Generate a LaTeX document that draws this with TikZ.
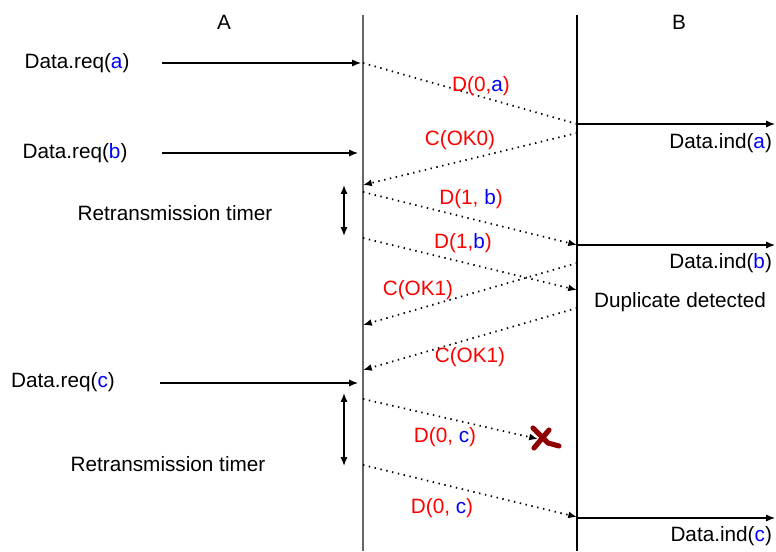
\documentclass[tikz,border=0pt]{standalone}
\usepackage{fontspec}
\setmainfont{Liberation Sans}
\usepackage{xcolor}
\usetikzlibrary{arrows.meta}
\definecolor{lossred}{RGB}{145,0,0}
\newcommand{\pdu}[1]{\textcolor{blue}{#1}}

\begin{document}
\begin{tikzpicture}[x=0.02cm, y=-0.02cm, >={Latex[length=5pt,width=4pt]},
    font=\fontsize{11.8}{14}\selectfont,
    life/.style={line width=0.7pt},
    req/.style={->, line width=0.7pt},
    msg/.style={->, line width=1pt, dash pattern=on 0.8pt off 2.6pt},
    timer/.style={<->, line width=0.8pt},
    lbl/.style={text=red, inner sep=1pt},
    txt/.style={inner sep=1pt}]

  \useasboundingbox (0,0) rectangle (776,551);

  % the two entities
  \node[txt] (A) at (224,22) {A};
  \node[txt] (B) at (679,22) {B};
  \coordinate (Atop) at (363,15);
  \coordinate (Abot) at (363,551);
  \coordinate (Btop) at (577,15);
  \coordinate (Bbot) at (577,551);
  \draw[life, gray!80!black] (Atop) -- (Abot);
  \draw[life] (Btop) -- (Bbot);

  % requests at A
  \node[txt] (reqa) at (77,63) {Data.req(\pdu{a})};
  \node[txt] (reqb) at (75,153) {Data.req(\pdu{b})};
  \node[txt] (reqc) at (63,382) {Data.req(\pdu{c})};
  \coordinate (ra0) at (162,63);  \coordinate (ra1) at (361,63);
  \coordinate (rb0) at (162,153); \coordinate (rb1) at (358,153);
  \coordinate (rc0) at (160,383); \coordinate (rc1) at (358,383);
  \draw[req] (ra0) -- (ra1);
  \draw[req] (rb0) -- (rb1);
  \draw[req] (rc0) -- (rc1);

  % indications at B
  \coordinate (ia0) at (577,124); \coordinate (ia1) at (775,124);
  \coordinate (ib0) at (577,245); \coordinate (ib1) at (775,245);
  \coordinate (ic0) at (577,518); \coordinate (ic1) at (775,518);
  \draw[req] (ia0) -- (ia1);
  \draw[req] (ib0) -- (ib1);
  \draw[req] (ic0) -- (ic1);
  \node[txt, anchor=east] (inda) at (774,143) {Data.ind(\pdu{a})};
  \node[txt, anchor=east] (indb) at (774,263) {Data.ind(\pdu{b})};
  \node[txt, anchor=east] (indc) at (774,536) {Data.ind(\pdu{c})};
  \node[txt] (dup) at (680,302) {Duplicate detected};

  % frames and acks
  \coordinate (d1s) at (363,63);  \coordinate (d1e) at (577,124);
  \coordinate (c1s) at (577,133); \coordinate (c1e) at (363,185);
  \coordinate (d2s) at (363,192); \coordinate (d2e) at (577,245);
  \coordinate (d3s) at (363,238); \coordinate (d3e) at (577,290);
  \coordinate (c2s) at (577,263); \coordinate (c2e) at (363,325);
  \coordinate (c3s) at (577,308); \coordinate (c3e) at (363,370);
  \coordinate (d4s) at (363,399); \coordinate (lost) at (538,439);
  \coordinate (d5s) at (363,465); \coordinate (d5e) at (577,517);

  \draw[line width=1pt, dash pattern=on 0.8pt off 2.6pt] (d1s) -- (d1e);
  \draw[msg] (c1s) -- (c1e);
  \draw[msg] (d2s) -- (d2e);
  \draw[msg] (d3s) -- (d3e);
  \draw[msg] (c2s) -- (c2e);
  \draw[msg] (c3s) -- (c3e);
  \draw[msg] (d4s) -- (lost);
  \draw[msg] (d5s) -- (d5e);

  \node[lbl] (l1) at (481,86)  {D(0,\pdu{a})};
  \node[lbl] (l2) at (460,140) {C(OK0)};
  \node[lbl] (l3) at (471,199) {D(1, \pdu{b})};
  \node[lbl] (l4) at (463,243) {D(1,\pdu{b})};
  \node[lbl] (l5) at (418,290) {C(OK1)};
  \node[lbl] (l6) at (470,357) {C(OK1)};
  \node[lbl] (l7) at (445,437) {D(0, \pdu{c})};
  \node[lbl] (l8) at (442,508) {D(0, \pdu{c})};

  % frame lost
  \draw[lossred, line width=2.9pt, line cap=round]
    (lost) ++(-5,-11) -- ++(15,15) -- ++(11,3)
    (lost) ++(-4,9) -- ++(15,-18);

  % retransmission timers
  \coordinate (t1s) at (344,185); \coordinate (t1e) at (344,236);
  \coordinate (t2s) at (344,393); \coordinate (t2e) at (344,466);
  \draw[timer] (t1s) -- (t1e);
  \draw[timer] (t2s) -- (t2e);
  \node[txt] (tm1) at (175,213) {Retransmission timer};
  \node[txt] (tm2) at (168,464) {Retransmission timer};
\end{tikzpicture}
\end{document}
